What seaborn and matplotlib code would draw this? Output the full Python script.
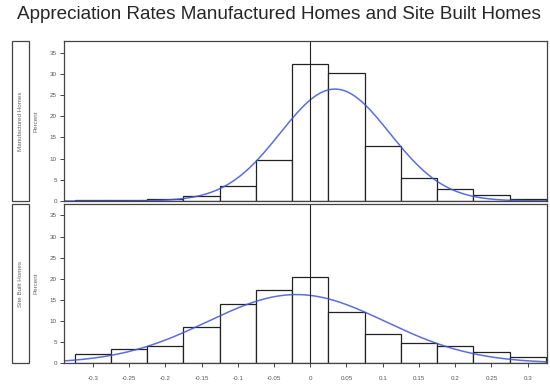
import matplotlib
matplotlib.use('Agg')
import matplotlib.pyplot as plt
import seaborn as sns
import numpy as np
import pandas as pd
from matplotlib.patches import Rectangle

# bin midpoints (appreciation rate) and percent of homes in each bin
bin_mids = [-0.3, -0.25, -0.2, -0.15, -0.1, -0.05, 0.0, 0.05, 0.1, 0.15, 0.2, 0.25, 0.3]
manufactured_pct = [0.2, 0.3, 0.5, 1.2, 3.5, 9.6, 32.2, 30.3, 13.0, 5.4, 2.8, 1.4, 0.5]
site_built_pct = [2.1, 3.3, 4.0, 8.5, 14.0, 17.3, 20.4, 12.1, 6.9, 4.7, 4.0, 2.6, 1.4]

x_ticks = [-0.3, -0.25, -0.2, -0.15, -0.1, -0.05, 0, 0.05, 0.1, 0.15, 0.2, 0.25, 0.3]
x_tick_labels = ['-0.3', '-0.25', '-0.2', '-0.15', '-0.1', '-0.05', '0',
                 '0.05', '0.1', '0.15', '0.2', '0.25', '0.3']
y_ticks = [0, 5, 10, 15, 20, 25, 30, 35]
panel_labels = ['Manufactured Homes', 'Site Built Homes']

BIN_W = 0.05
CURVE_COLOR = '#3f55d6'

sns.set_style('white')
plt.rcParams['font.family'] = ['Liberation Sans', 'DejaVu Sans']

fig = plt.figure(figsize=(5.5, 3.88), dpi=100)
ax_top = fig.add_axes([0.116, 0.482, 0.879, 0.412])
ax_bot = fig.add_axes([0.116, 0.064, 0.879, 0.41])

bin_range = (bin_mids[0] - BIN_W / 2, bin_mids[-1] + BIN_W / 2)


def draw_panel(ax, pct):
    df = pd.DataFrame({'rate': bin_mids, 'pct': pct})
    sns.histplot(data=df, x='rate', weights='pct', binwidth=BIN_W, binrange=bin_range,
                 ax=ax, color='white', edgecolor='#222222', linewidth=0.9, alpha=1)
    # normal curve fitted to the binned data
    mids = df['rate'].to_numpy()
    w = df['pct'].to_numpy()
    mu = np.sum(mids * w) / w.sum()
    sd = np.sqrt(np.sum(w * (mids - mu) ** 2) / w.sum() - BIN_W ** 2 / 12)
    xs = np.linspace(-0.34, 0.33, 300)
    ys = 100 * BIN_W * np.exp(-0.5 * ((xs - mu) / sd) ** 2) / (sd * np.sqrt(2 * np.pi))
    sns.lineplot(x=xs, y=ys, ax=ax, color=CURVE_COLOR, linewidth=1.1, alpha=0.85)
    ax.axvline(0, color='#222222', linewidth=0.8)
    ax.set_xlim(-0.34, 0.327)
    ax.set_ylim(0, 37.7)
    ax.set_yticks(y_ticks)
    ax.set_yticklabels([str(t) for t in y_ticks], fontsize=4.5, color='#555555')
    ax.set_ylabel('')
    ax.set_xlabel('')
    ax.tick_params(axis='y', direction='out', length=3, width=0.6, pad=2, left=True)
    for sp in ax.spines.values():
        sp.set_color('#444444')
        sp.set_linewidth(0.9)


draw_panel(ax_top, manufactured_pct)
draw_panel(ax_bot, site_built_pct)

ax_top.set_xticks([])
ax_bot.set_xticks(x_ticks)
ax_bot.set_xticklabels(x_tick_labels, fontsize=4.5, color='#555555')
ax_bot.tick_params(axis='x', direction='out', length=3, width=0.6, pad=6, bottom=True)

# row header boxes and percent labels on the left
for ax, label in zip([ax_top, ax_bot], panel_labels):
    pos = ax.get_position()
    fig.patches.append(Rectangle((0.021, pos.y0), 0.032, pos.height,
                                 transform=fig.transFigure, fill=False,
                                 edgecolor='#444444', linewidth=0.9))
    fig.text(0.037, pos.y0 + pos.height / 2, label, rotation=90,
             ha='center', va='center', fontsize=4.5, color='#666666')
    fig.text(0.065, pos.y0 + pos.height / 2, 'Percent', rotation=90,
             ha='center', va='center', fontsize=4.5, color='#666666')

fig.text(0.508, 0.962, 'Appreciation Rates Manufactured Homes and Site Built Homes',
         ha='center', va='center', fontsize=13.6)

fig.savefig('out.png', dpi=100)
